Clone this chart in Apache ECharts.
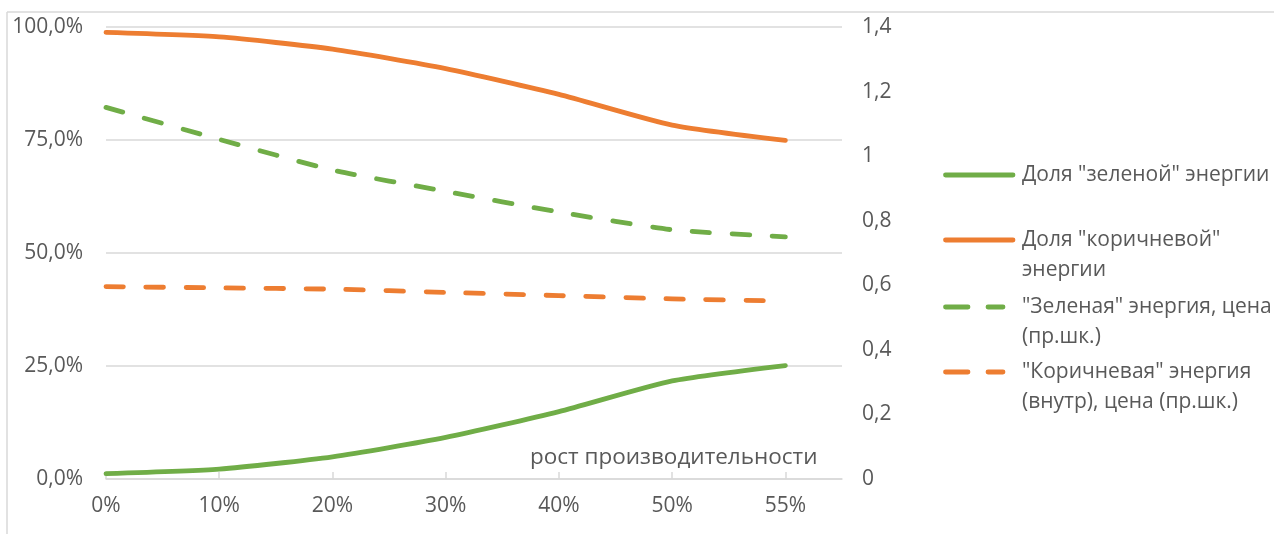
<!DOCTYPE html>
<html><head><meta charset="utf-8">
<script src="https://cdn.jsdelivr.net/npm/echarts@6/dist/echarts.min.js"></script>
<style>html,body{margin:0;padding:0;background:#fff}#c{width:1274px;height:534px}</style>
</head><body><div id="c"></div>
<script>
const categories = ['0%', '10%', '20%', '30%', '40%', '50%', '55%'];
const greenShare = [0.012, 0.022, 0.049, 0.092, 0.149, 0.217, 0.251];
const brownShare = [0.988, 0.978, 0.951, 0.908, 0.851, 0.783, 0.749];
const greenPrice = [1.151, 1.052, 0.957, 0.891, 0.827, 0.772, 0.750];
const brownPrice = [0.596, 0.592, 0.588, 0.578, 0.568, 0.558, 0.551];
const seriesNames = ['Доля "зеленой" энергии', 'Доля "коричневой"\nэнергии', '"Зеленая" энергия, цена\n(пр.шк.)', '"Коричневая" энергия\n(внутр), цена (пр.шк.)'];
const xTitle = 'рост производительности';

const FONT = 'Open Sans';
const GREEN = '#70AD47', ORANGE = '#ED7D31', TXT = '#595959', GRID = '#d9d9d9';
const pts = arr => arr.map((v, i) => [i, v]);
const dash = [17.5, 22.5];
const seriesColors = [GREEN, ORANGE, GREEN, ORANGE];
const seriesDashed = [false, false, true, true];

function mkSeries(idx, data, yIdx) {
  const color = seriesColors[idx];
  return {
    name: seriesNames[idx], type: 'line', data: pts(data), yAxisIndex: yIdx, symbol: 'none', smooth: 0.2,
    lineStyle: { color, width: 4.8, type: seriesDashed[idx] ? dash : 'solid', cap: 'round', join: 'round' },
    itemStyle: { color }, emphasis: { disabled: true }, animation: false
  };
}
const legendY = [175, 240, 307, 372];
const legendGraphics = [];
seriesNames.forEach((name, i) => {
  const y = legendY[i];
  legendGraphics.push({
    type: 'line', silent: true,
    shape: { x1: 945.5, y1: y, x2: seriesDashed[i] ? 1003 : 1013, y2: y },
    style: { stroke: seriesColors[i], lineWidth: 4.8, lineCap: 'round', lineDash: seriesDashed[i] ? [22.5, 20] : null }
  });
  legendGraphics.push({
    type: 'text', silent: true, x: 1022, y: y - 15,
    style: { text: name, font: '21px "Open Sans"', fill: TXT, lineHeight: 30, verticalAlign: 'top', align: 'left' }
  });
});

const chart = echarts.init(document.getElementById('c'), null, { renderer: 'canvas' });
chart.setOption({
  animation: false,
  grid: { left: 106, right: 432, top: 27, bottom: 55, containLabel: false },
  xAxis: {
    type: 'value', min: 0, max: 6.5, interval: 1,
    axisLine: { show: true, lineStyle: { color: GRID, width: 1.5 } },
    axisTick: { show: true, inside: true, length: 7, lineStyle: { color: GRID, width: 1.5 } },
    splitLine: { show: false },
    axisLabel: { formatter: v => (Number.isInteger(v) && categories[v] !== undefined) ? categories[v] : '', showMaxLabel: false, fontFamily: FONT, fontSize: 21, color: TXT, margin: 17 }
  },
  yAxis: [
    { type: 'value', min: 0, max: 1, interval: 0.25, position: 'left',
      axisLine: { show: false }, axisTick: { show: false },
      splitLine: { show: true, lineStyle: { color: GRID, width: 1.5 } },
      axisLabel: { formatter: v => (v * 100).toFixed(1).replace('.', ',') + '%', fontFamily: FONT, fontSize: 21, color: TXT, margin: 23 } },
    { type: 'value', min: 0, max: 1.4, interval: 0.2, position: 'right',
      axisLine: { show: false }, axisTick: { show: false }, splitLine: { show: false },
      axisLabel: { formatter: v => String(+v.toFixed(1)).replace('.', ','), fontFamily: FONT, fontSize: 21, color: TXT, margin: 20, align: 'left' } }
  ],
  title: { text: xTitle, left: 525, top: 441, textStyle: { fontFamily: FONT, fontSize: 22.5, fontWeight: 'normal', color: TXT } },
  series: [
    mkSeries(0, greenShare, 0),
    mkSeries(1, brownShare, 0),
    mkSeries(2, greenPrice, 1),
    mkSeries(3, brownPrice, 1)
  ],
  graphic: [
    { type: 'line', shape: { x1: 7, y1: 12, x2: 1274, y2: 12 }, style: { stroke: GRID, lineWidth: 1.5 }, silent: true },
    { type: 'line', shape: { x1: 7, y1: 12, x2: 7, y2: 534 }, style: { stroke: GRID, lineWidth: 1.5 }, silent: true }
  ].concat(legendGraphics)
});
</script></body></html>
